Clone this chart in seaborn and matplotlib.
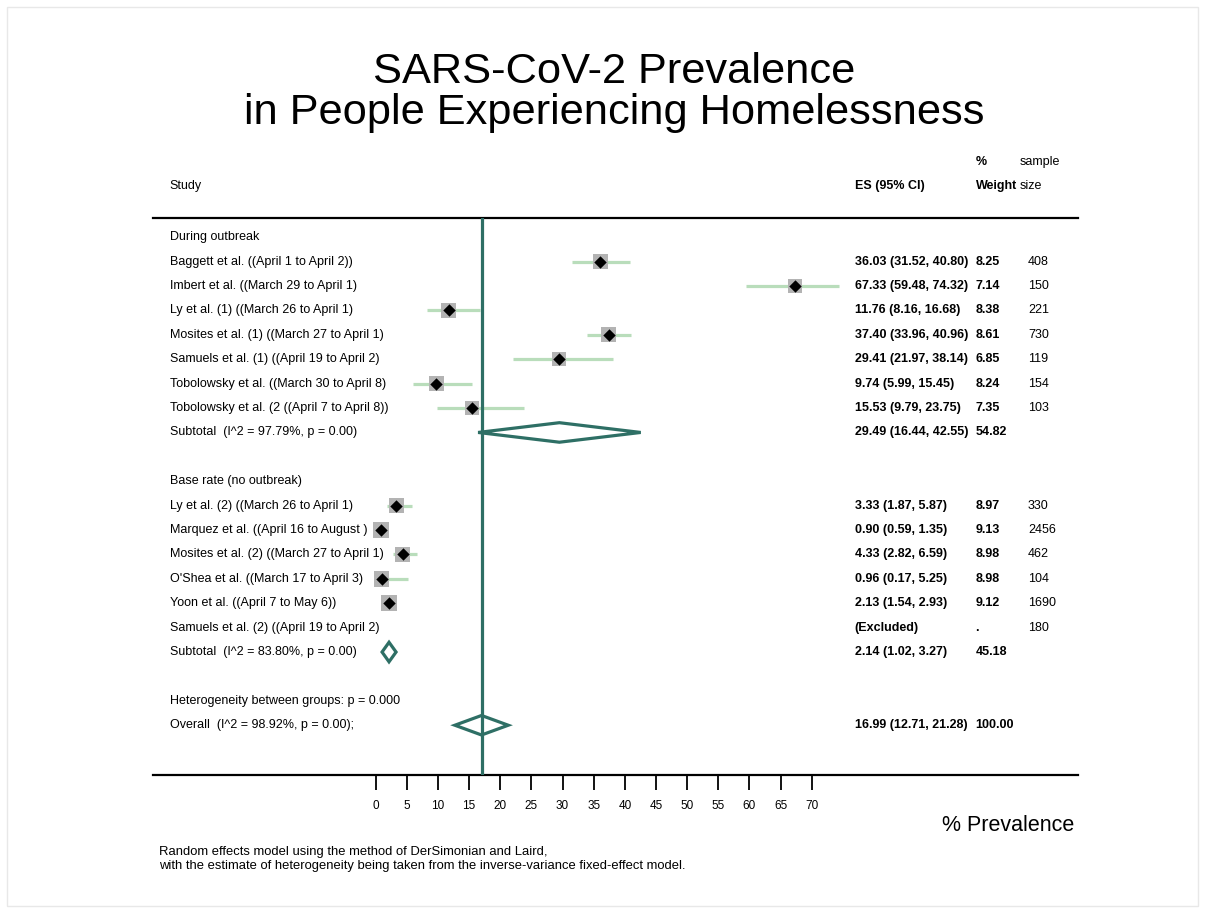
import numpy as np
import pandas as pd
import seaborn as sns
import matplotlib.pyplot as plt
from matplotlib.patches import Polygon, Rectangle

# data
labels = [
    "During outbreak",
    "Baggett et al. ((April 1 to April 2))",
    "Imbert et al. ((March 29 to April 1)",
    "Ly et al. (1) ((March 26 to April 1)",
    "Mosites et al. (1) ((March 27 to April 1)",
    "Samuels et al. (1) ((April 19 to April 2)",
    "Tobolowsky et al. ((March 30 to April 8)",
    "Tobolowsky et al. (2 ((April 7 to April 8))",
    "Subtotal  (I^2 = 97.79%, p = 0.00)",
    "",
    "Base rate (no outbreak)",
    "Ly et al. (2) ((March 26 to April 1)",
    "Marquez et al. ((April 16 to August )",
    "Mosites et al. (2) ((March 27 to April 1)",
    "O'Shea et al. ((March 17 to April 3)",
    "Yoon et al. ((April 7 to May 6))",
    "Samuels et al. (2) ((April 19 to April 2)",
    "Subtotal  (I^2 = 83.80%, p = 0.00)",
    "",
    "Heterogeneity between groups: p = 0.000",
    "Overall  (I^2 = 98.92%, p = 0.00);",
]

# individual studies (row index, estimate, CI, weight)
study_rows = [1, 2, 3, 4, 5, 6, 7, 11, 12, 13, 14, 15]
study_es = [36.03, 67.33, 11.76, 37.40, 29.41, 9.74, 15.53, 3.33, 0.90, 4.33, 0.96, 2.13]
study_lo = [31.52, 59.48, 8.16, 33.96, 21.97, 5.99, 9.79, 1.87, 0.59, 2.82, 0.17, 1.54]
study_hi = [40.80, 74.32, 16.68, 40.96, 38.14, 15.45, 23.75, 5.87, 1.35, 6.59, 5.25, 2.93]
study_w = [8.25, 7.14, 8.38, 8.61, 6.85, 8.24, 7.35, 8.97, 9.13, 8.98, 8.98, 9.12]

# pooled estimates drawn as diamonds
pooled_rows = [8, 17, 20]
pooled_es = [29.49, 2.14, 16.99]
pooled_lo = [16.44, 1.02, 12.71]
pooled_hi = [42.55, 3.27, 21.28]

# text columns
es_text = {1: "36.03 (31.52, 40.80)", 2: "67.33 (59.48, 74.32)", 3: "11.76 (8.16, 16.68)",
           4: "37.40 (33.96, 40.96)", 5: "29.41 (21.97, 38.14)", 6: "9.74 (5.99, 15.45)",
           7: "15.53 (9.79, 23.75)", 8: "29.49 (16.44, 42.55)", 11: "3.33 (1.87, 5.87)",
           12: "0.90 (0.59, 1.35)", 13: "4.33 (2.82, 6.59)", 14: "0.96 (0.17, 5.25)",
           15: "2.13 (1.54, 2.93)", 16: "(Excluded)", 17: "2.14 (1.02, 3.27)",
           20: "16.99 (12.71, 21.28)"}
weight_text = {1: "8.25", 2: "7.14", 3: "8.38", 4: "8.61", 5: "6.85", 6: "8.24", 7: "7.35",
               8: "54.82", 11: "8.97", 12: "9.13", 13: "8.98", 14: "8.98", 15: "9.12",
               16: ".", 17: "45.18", 20: "100.00"}
size_text = {1: "408", 2: "150", 3: "221", 4: "730", 5: "119", 6: "154", 7: "103",
             11: "330", 12: "2456", 13: "462", 14: "104", 15: "1690", 16: "180"}
xticks = list(range(0, 75, 5))

df = pd.DataFrame({"row": study_rows, "es": study_es, "lo": study_lo,
                   "hi": study_hi, "weight": study_w})

sns.set_theme(style="white")
plt.rcParams['font.family'] = ['Liberation Sans', 'DejaVu Sans']
plt.rcParams['text.color'] = 'black'
plt.rcParams['xtick.color'] = 'black'

teal = "#2e6f65"
fig = plt.figure(figsize=(12.05, 9.13), dpi=100)
ax = fig.add_axes([152.7 / 1205, 1 - 775 / 913, 925 / 1205, (775 - 218) / 913])

# confidence intervals
ax.hlines(df["row"], df["lo"], df["hi"], color="#b9ddbb", lw=2.3, zorder=1)
# weight boxes
sns.scatterplot(data=df, x="es", y="row", size="weight", sizes=(0, 140), size_norm=(0, 10),
                marker="s", color="#b3b3b3", linewidth=0, legend=False, ax=ax, zorder=2)
# point estimates
sns.scatterplot(data=df, x="es", y="row", marker="D", s=40, color="black",
                linewidth=0, legend=False, ax=ax, zorder=3)

# overall line
ax.axvline(pooled_es[-1], color=teal, lw=2.3, zorder=4)

# pooled diamonds
for r, e, lo, hi in zip(pooled_rows, pooled_es, pooled_lo, pooled_hi):
    h = 0.4
    ax.add_patch(Polygon([(lo, r), (e, r - h), (hi, r), (e, r + h)], closed=True,
                         fill=False, edgecolor=teal, lw=2.3, zorder=5))

ax.set_xlim(-35.8, 112.7)
ax.set_ylim(22.04, -0.79)
ax.set_xticks(xticks)
ax.set_xticklabels([str(t) for t in xticks])
ax.set_yticks([])
ax.set_xlabel("")
ax.set_ylabel("")
ax.tick_params(axis="x", bottom=True, length=10.8, width=1.3, color="black",
               labelcolor="black", pad=7, labelsize=8.5)
for s in ["left", "right"]:
    ax.spines[s].set_visible(False)
for s in ["top", "bottom"]:
    ax.spines[s].set_color("black")
    ax.spines[s].set_linewidth(1.6)

# left-hand labels
for i, lab in enumerate(labels):
    if lab:
        ax.text(-33.1, i, lab, ha="left", va="center", fontsize=9)

# right-hand columns
for r, t in es_text.items():
    ax.text(76.9, r, t, ha="left", va="center", fontsize=9, fontweight="bold")
for r, t in weight_text.items():
    ax.text(96.3, r, t, ha="left", va="center", fontsize=9, fontweight="bold")
for r, t in size_text.items():
    ax.text(104.7, r, t, ha="left", va="center", fontsize=9)

# headers
ax.text(-33.1, -2.1, "Study", ha="left", va="center", fontsize=9, clip_on=False)
ax.text(76.9, -2.1, "ES (95% CI)", ha="left", va="center", fontsize=9, fontweight="bold")
ax.text(96.3, -3.1, "%", ha="left", va="center", fontsize=9, fontweight="bold")
ax.text(96.3, -2.1, "Weight", ha="left", va="center", fontsize=9, fontweight="bold")
ax.text(103.4, -3.1, "sample", ha="left", va="center", fontsize=9)
ax.text(103.4, -2.1, "size", ha="left", va="center", fontsize=9)

# title
fig.text(0.51, 1 - 83 / 913, "SARS-CoV-2 Prevalence", ha="center", va="baseline", fontsize=31.2)
fig.text(0.51, 1 - 124 / 913, "in People Experiencing Homelessness", ha="center",
         va="baseline", fontsize=31.2)

fig.text(1074 / 1205, 1 - 831 / 913, "% Prevalence", ha="right", va="baseline", fontsize=15.5)

fig.text(159 / 1205, 1 - 852 / 913, "Random effects model using the method of DerSimonian and Laird,",
         ha="left", va="center", fontsize=9.4)
fig.text(159 / 1205, 1 - 866 / 913,
         "with the estimate of heterogeneity being taken from the inverse-variance fixed-effect model.",
         ha="left", va="center", fontsize=9.4)

# faint outer frame
fig.patches.append(Rectangle((7 / 1205, 7 / 913), 1191 / 1205, 899 / 913, transform=fig.transFigure,
                             fill=False, edgecolor="#e8e8e8", lw=1))

fig.savefig("out.png", dpi=100)
